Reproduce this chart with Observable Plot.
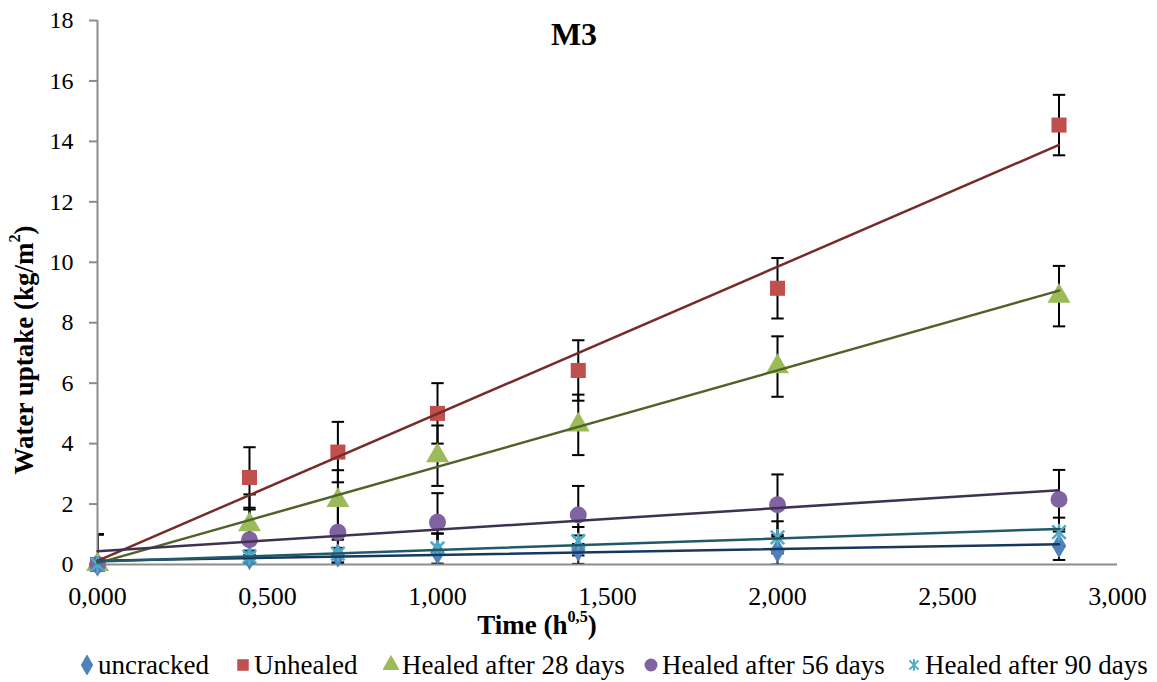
<!DOCTYPE html>
<html><head><meta charset="utf-8">
<script src="https://cdn.jsdelivr.net/npm/d3@7"></script>
<script src="https://cdn.jsdelivr.net/npm/@observablehq/plot@0.6"></script>
<style>
body{margin:0;background:#fff;font-family:"Liberation Serif","Times New Roman",serif;color:#000;}
#wrap{position:relative;width:1157px;height:682px;overflow:hidden;}
#chart{position:absolute;left:0;top:0;}
#chart svg text{font-family:"Liberation Serif","Times New Roman",serif;}
#title{position:absolute;left:0;width:1148px;top:18px;text-align:center;font-weight:bold;font-size:32px;line-height:1;}
#xlabel{position:absolute;left:537px;top:612px;transform:translateX(-50%);font-weight:bold;font-size:27px;line-height:1;white-space:nowrap;}
#ylabel{position:absolute;left:24px;top:350px;transform:translate(-50%,-50%) rotate(-90deg);font-weight:bold;font-size:27px;line-height:1;white-space:nowrap;}
sup{font-size:0.6em;line-height:0;vertical-align:0.75em;}
.leg{position:absolute;top:651px;height:28px;display:flex;align-items:center;font-size:27px;white-space:nowrap;}
.leg svg{margin-right:3px;}
</style></head><body>
<div id="wrap">
  <div id="chart"></div>
  <div id="title">M3</div>
  <div id="ylabel">Water uptake (kg/m<sup>2</sup>)</div>
  <div id="xlabel">Time (h<sup>0,5</sup>)</div>
  <div id="legend"></div>
</div>
<script>
// ---- data ----
const times = [0, 0.447, 0.707, 1.0, 1.414, 2.0, 2.828];
const seriesNames = ["uncracked", "Unhealed", "Healed after 28 days", "Healed after 56 days", "Healed after 90 days"];
const uncracked = [0, 0.22, 0.30, 0.40, 0.49, 0.46, 0.62];
const unhealed  = [0, 2.88, 3.72, 5.00, 6.42, 9.14, 14.54];
const healed28  = [0, 1.32, 2.12, 3.60, 4.62, 6.55, 8.88];
const healed56  = [0, 0.82, 1.07, 1.40, 1.64, 1.98, 2.15];
const healed90  = [0, 0.26, 0.36, 0.53, 0.77, 0.90, 1.07];
const errUncracked = [1, 0.20, 0.25, 0.62, 0.47, 0.46, 0.47];
const errUnhealed  = [1, 1, 1, 1, 1, 1, 1];
const errHealed28  = [1, 1, 1, 1, 1, 1, 1];
const errHealed56  = [1, 1, 1, 0.96, 0.96, 1, 0.98];
const errHealed90  = [1, 0.20, 0.46, 0.50, 0.47, 0.53, 0.48];
const yTicks = [0, 2, 4, 6, 8, 10, 12, 14, 16, 18];
const xTicks = [0, 0.5, 1, 1.5, 2, 2.5, 3];

// ---- styles ----
const values = [uncracked, unhealed, healed28, healed56, healed90];
const errs = [errUncracked, errUnhealed, errHealed28, errHealed56, errHealed90];
const markerColors = ["#4F81BD", "#C0504D", "#9BBB59", "#8064A2", "#4BACC6"];
const trendColors = ["#17375E", "#772C2A", "#4F6228", "#3F3151", "#215968"];
const FONT = "Liberation Serif";

const capSymbol = {draw(ctx, size) { const w = Math.sqrt(size) / 2; ctx.moveTo(-w, 0); ctx.lineTo(w, 0); }};
const starSymbol = {draw(ctx, size) {
  const w = Math.sqrt(size) / 2;
  ctx.moveTo(0, -w); ctx.lineTo(0, w);
  ctx.moveTo(-w * 0.8, -w * 0.8); ctx.lineTo(w * 0.8, w * 0.8);
  ctx.moveTo(-w * 0.8, w * 0.8); ctx.lineTo(w * 0.8, -w * 0.8);
}};
const symbols = [d3.symbolDiamond, d3.symbolSquare, d3.symbolTriangle, d3.symbolCircle, starSymbol];
const radii = [7.5, 8.5, 8.5, 8.5, 9.5];

const rows = [];
seriesNames.forEach((name, s) => {
  times.forEach((t, i) => rows.push({series: name, x: t, y: values[s][i], err: errs[s][i]}));
});

const marks = [
  Plot.ruleX(rows, {x: "x", y1: d => d.y - d.err, y2: d => d.y + d.err, stroke: "#000", strokeWidth: 2, clip: true}),
  Plot.dot(rows, {x: "x", y: d => d.y + d.err, symbol: capSymbol, r: 7, stroke: "#000", strokeWidth: 2, clip: true}),
  Plot.dot(rows, {x: "x", y: d => d.y - d.err, symbol: capSymbol, r: 7, stroke: "#000", strokeWidth: 2, clip: true}),
  Plot.ruleY([0], {stroke: "#8c8c8c", strokeWidth: 2}),
  Plot.ruleX([0], {stroke: "#8c8c8c", strokeWidth: 2}),
  Plot.axisY({ticks: yTicks, tickSize: 8, tickPadding: 16, fontSize: 24, fontFamily: FONT, stroke: "#8c8c8c", strokeWidth: 2, label: null}),
  Plot.axisX({ticks: xTicks, tickSize: 0, tickPadding: 22, fontSize: 26, fontFamily: FONT, tickFormat: d => d.toFixed(3).replace(".", ","), label: null})
];
seriesNames.forEach((name, s) => {
  const sub = rows.filter(d => d.series === name);
  if (s === 4) {
    marks.push(Plot.dot(sub, {x: "x", y: "y", symbol: symbols[s], r: radii[s], stroke: markerColors[s], strokeWidth: 2.5}));
  } else {
    marks.push(Plot.dot(sub, {x: "x", y: "y", symbol: symbols[s], r: radii[s], fill: markerColors[s]}));
  }
});
seriesNames.forEach((name, s) => {
  const sub = rows.filter(d => d.series === name);
  marks.push(Plot.linearRegressionY(sub, {x: "x", y: "y", stroke: trendColors[s], strokeWidth: 2.5, ci: 0}));
});

const chart = Plot.plot({
  width: 1157,
  height: 645,
  marginLeft: 97,
  marginRight: 40,
  marginTop: 20,
  marginBottom: 81,
  style: "font-family: 'Liberation Serif', 'Times New Roman', serif; color: #000; background: #fff;",
  x: {domain: [0, 3]},
  y: {domain: [0, 18]},
  marks
});
document.getElementById("chart").appendChild(chart);

// ---- legend ----
const legendLeft = [79, 235, 383, 643, 906];
const legend = document.getElementById("legend");
seriesNames.forEach((name, s) => {
  const item = document.createElement("div");
  item.className = "leg";
  item.style.left = legendLeft[s] + "px";
  const sym = d3.symbol().type(symbols[s]).size(Math.PI * 6.5 * 6.5)();
  const isStroke = s === 4;
  item.innerHTML = `<svg width="16" height="20" viewBox="-8 -10 16 20"><path d="${sym}" ${isStroke ? `fill="none" stroke="${markerColors[s]}" stroke-width="2"` : `fill="${markerColors[s]}"`}/></svg><span>${name}</span>`;
  legend.appendChild(item);
});
</script>
</body></html>
